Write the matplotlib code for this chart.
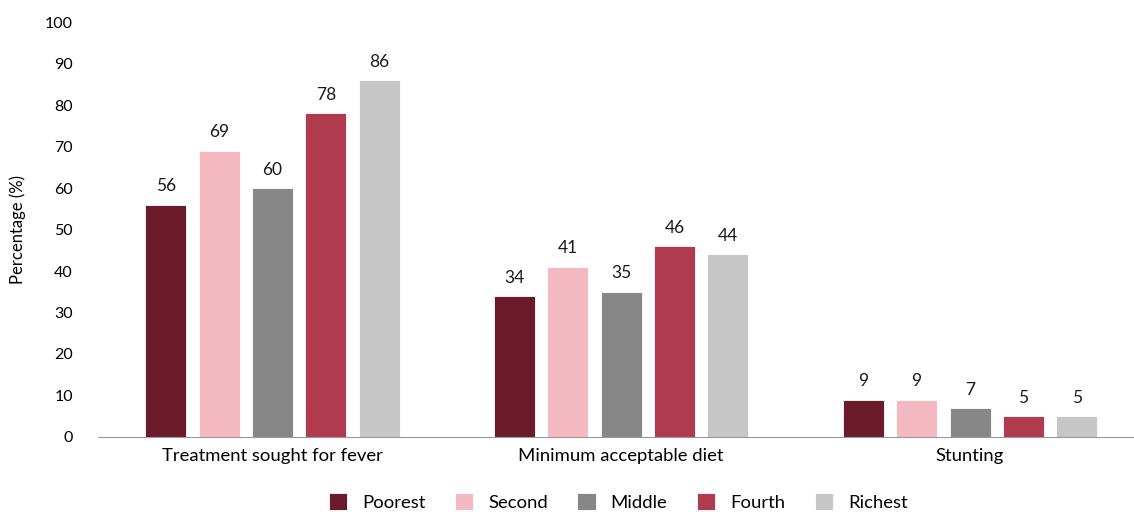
import numpy as np
import matplotlib.pyplot as plt

plt.rcParams['font.family'] = ['Lato', 'DejaVu Sans']

categories = ['Treatment sought for fever', 'Minimum acceptable diet', 'Stunting']
series = ['Poorest', 'Second', 'Middle', 'Fourth', 'Richest']
values = {
    'Poorest': [56, 34, 9],
    'Second': [69, 41, 9],
    'Middle': [60, 35, 7],
    'Fourth': [78, 46, 5],
    'Richest': [86, 44, 5],
}
colors = ['#6B1A2C', '#F5BAC1', '#878787', '#B03B4F', '#C6C6C6']

fig = plt.figure(figsize=(11.34, 5.12), dpi=100)
ax = fig.add_axes([0.0864, 0.1465, 0.9136, 0.8105])

x = np.arange(len(categories))
step = 0.153
width = 0.1175
for i, (name, c) in enumerate(zip(series, colors)):
    pos = x + (i - 2) * step
    bars = ax.bar(pos, values[name], width, color=c, label=name,
                  edgecolor='white', linewidth=0.6)
    for b, v in zip(bars, values[name]):
        ax.text(b.get_x() + b.get_width() / 2, v + 2.5, str(v),
                ha='center', va='bottom', fontsize=12.5, color='#1a1a1a')

ax.set_xlim(-0.5, 2.47)
ax.set_ylim(0, 100)
ax.set_yticks(range(0, 101, 10))
ax.set_xticks(x)
ax.set_xticklabels(categories, fontsize=13.3)
ax.tick_params(axis='y', length=0, labelsize=11.5, pad=18)
ax.tick_params(axis='x', length=0, pad=8)
ax.set_ylabel('Percentage (%)', fontsize=12, labelpad=14)
for s in ['top', 'right', 'left']:
    ax.spines[s].set_visible(False)
ax.spines['bottom'].set_color('#9a9a9a')

fig.legend(loc='lower center', ncol=5, frameon=False, fontsize=13.3,
           handlelength=1.0, handleheight=1.0, columnspacing=1.6,
           handletextpad=0.8, bbox_to_anchor=(0.545, -0.03))

fig.savefig('out.png', dpi=100)
